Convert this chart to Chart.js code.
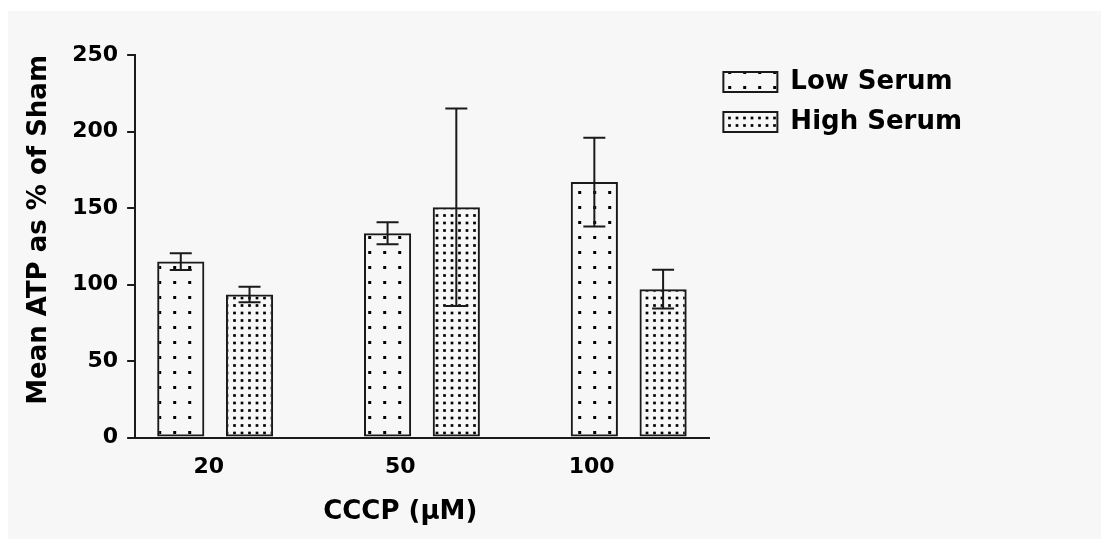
<!DOCTYPE html>
<html>
<head>
<meta charset="utf-8">
<title>ATP vs CCCP</title>
<script src="https://cdn.jsdelivr.net/npm/chart.js@4.4.1/dist/chart.umd.min.js"></script>
<style>
  html, body { margin: 0; padding: 0; background: #ffffff; }
  #wrap { position: relative; width: 1101px; height: 539px; }
</style>
</head>
<body>
<div id="wrap"><canvas id="atpChart" width="1101" height="539"></canvas></div>
<script>
// CCCP concentrations (µM) shown on the x axis
const doses = ['20', '50', '100'];

// Mean ATP as % of sham, with error (± SEM)
const lowSerum = [115, 133.5, 167];
const lowSerumErr = [5.5, 7.2, 29];
const highSerum = [93.5, 150.5, 97];
const highSerumErr = [5, 64.5, 12.7];

// y axis range and step
const yMin = 0;
const yMax = 250;
const yStep = 50;

Chart.defaults.font.family = "'DejaVu Sans', 'Liberation Sans', Arial, sans-serif";
Chart.defaults.font.weight = 'bold';

const canvas = document.getElementById('atpChart');
const ctx = canvas.getContext('2d');

// Stippled fills on a 15 px tile: sparse dots and a dense dot grid
function dotPattern(dots, size) {
  const tile = document.createElement('canvas');
  tile.width = 15;
  tile.height = 15;
  const g = tile.getContext('2d');
  g.fillStyle = '#000000';
  dots.forEach(([x, y]) => g.fillRect(x - size / 2, y - size / 2, size, size));
  return ctx.createPattern(tile, 'repeat');
}
const sparseDots = dotPattern([[9.7, 12.5]], 3);
const denseDots = dotPattern([[2, 5.5], [9.5, 5.5], [2, 13], [9.5, 13]], 2.7);

// Light grey panel behind the plot
const panel = {
  id: 'panel',
  beforeDraw(chart) {
    const c = chart.ctx;
    c.save();
    c.fillStyle = '#f7f7f7';
    c.fillRect(8, 11, chart.width - 8, chart.height - 11);
    c.restore();
  }
};

// Error bars with caps, drawn over each bar
const errorBars = {
  id: 'errorBars',
  afterDatasetsDraw(chart) {
    const c = chart.ctx;
    const y = chart.scales.y;
    chart.data.datasets.forEach((ds, i) => {
      const meta = chart.getDatasetMeta(i);
      meta.data.forEach((bar, j) => {
        const v = ds.data[j].y;
        const e = ds.errorBars[j];
        const top = y.getPixelForValue(v + e);
        const bot = y.getPixelForValue(v - e);
        const half = 11;
        c.save();
        c.strokeStyle = '#1a1a1a';
        c.lineWidth = 2;
        c.beginPath();
        c.moveTo(bar.x, top); c.lineTo(bar.x, bot);
        c.moveTo(bar.x - half, top); c.lineTo(bar.x + half, top);
        c.moveTo(bar.x - half, bot); c.lineTo(bar.x + half, bot);
        c.stroke();
        c.restore();
      });
    });
  }
};

// x axis title, centred under the middle dose label
const xTitle = {
  id: 'xTitle',
  afterDraw(chart) {
    const s = chart.scales.xLabels;
    const c = chart.ctx;
    const cx = s.getPixelForValue(1) + s.options.ticks.labelOffset;
    c.save();
    c.fillStyle = '#000000';
    c.font = "bold 26px 'DejaVu Sans', sans-serif";
    c.textAlign = 'center';
    c.textBaseline = 'middle';
    c.fillText('CCCP (µM)', cx, chart.chartArea.bottom + 75);
    c.restore();
  }
};

const barStyle = {
  borderColor: '#1a1a1a',
  borderWidth: 2,
  borderSkipped: false,
  categoryPercentage: 0.665,
  barPercentage: 0.686
};

new Chart(ctx, {
  type: 'bar',
  data: {
    datasets: [
      Object.assign({
        label: 'Low Serum',
        data: lowSerum.map((v, i) => ({ x: i, y: v })),
        errorBars: lowSerumErr,
        backgroundColor: sparseDots
      }, barStyle),
      Object.assign({
        label: 'High Serum',
        data: highSerum.map((v, i) => ({ x: i, y: v })),
        errorBars: highSerumErr,
        backgroundColor: denseDots
      }, barStyle)
    ]
  },
  options: {
    responsive: false,
    animation: false,
    devicePixelRatio: 1,
    layout: { padding: { left: 20, top: 55, right: 129, bottom: 43 } },
    plugins: {
      legend: {
        position: 'right',
        align: 'start',
        maxWidth: 300,
        labels: {
          boxWidth: 54,
          boxHeight: 20,
          padding: 14,
          color: '#000000',
          font: { size: 26, weight: 'bold' }
        }
      },
      tooltip: { enabled: false }
    },
    scales: {
      x: {
        type: 'linear',
        min: -0.387,
        max: 2.39,
        offset: false,
        weight: 0,
        grid: { display: false, drawTicks: false },
        border: { display: true, color: '#1a1a1a', width: 2 },
        ticks: { display: false, stepSize: 1, includeBounds: false }
      },
      xLabels: {
        type: 'category',
        labels: doses,
        position: 'bottom',
        offset: true,
        weight: 1,
        grid: { display: false, drawTicks: false },
        border: { display: false },
        ticks: {
          color: '#000000',
          font: { size: 22, weight: 'bold' },
          padding: 16,
          labelOffset: -22,
          maxRotation: 0
        }
      },
      y: {
        min: yMin,
        max: yMax,
        ticks: {
          stepSize: yStep,
          color: '#000000',
          font: { size: 22, weight: 'bold' },
          padding: 9
        },
        grid: {
          display: true,
          drawOnChartArea: false,
          drawTicks: true,
          tickLength: 8,
          color: '#1a1a1a',
          lineWidth: 2
        },
        border: { display: true, color: '#1a1a1a', width: 2 },
        title: {
          display: true,
          text: 'Mean ATP as % of Sham',
          align: 'end',
          color: '#000000',
          font: { size: 26, weight: 'bold' },
          padding: { top: 4, bottom: 8 }
        }
      }
    }
  },
  plugins: [panel, errorBars, xTitle]
});
</script>
</body>
</html>
